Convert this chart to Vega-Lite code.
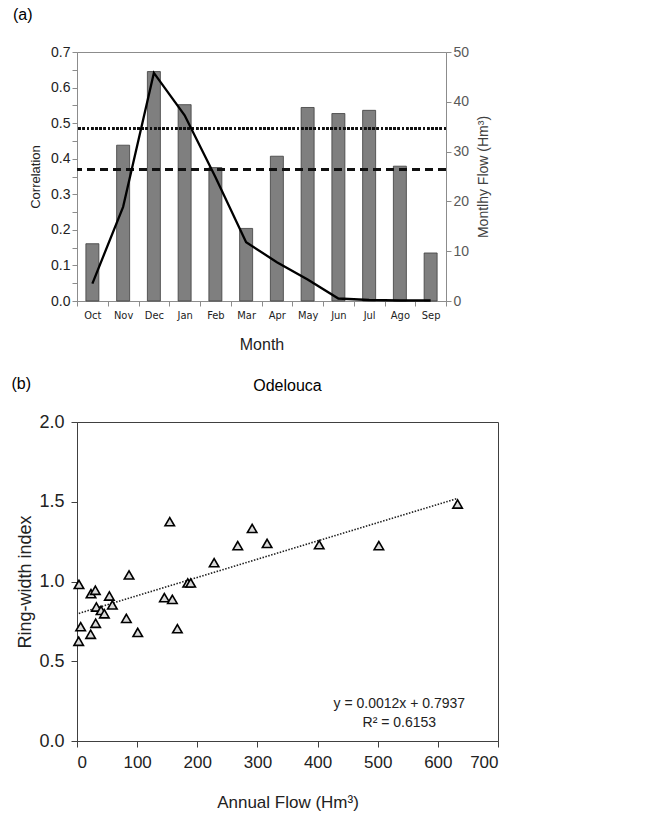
{
  "$schema": "https://vega.github.io/schema/vega-lite/v6.json",
  "background": "white",
  "padding": {"left": 11, "top": 6, "right": 5, "bottom": 5},
  "config": {
    "font": "Liberation Sans",
    "view": {"stroke": "#8c8c8c"},
    "title": {"fontWeight": "normal", "color": "#000000"},
    "axis": {"grid": false, "labelFont": "Liberation Sans", "titleFont": "Liberation Sans", "titleFontWeight": "normal", "labelOverlap": false}
  },
  "datasets": {
    "months": [
      {"month": "Oct", "corr": 0.161, "flow": 3.5},
      {"month": "Nov", "corr": 0.438, "flow": 18.9},
      {"month": "Dec", "corr": 0.645, "flow": 45.8},
      {"month": "Jan", "corr": 0.552, "flow": 37.3},
      {"month": "Feb", "corr": 0.375, "flow": 24.9},
      {"month": "Mar", "corr": 0.204, "flow": 11.8},
      {"month": "Apr", "corr": 0.407, "flow": 7.8},
      {"month": "May", "corr": 0.544, "flow": 4.3},
      {"month": "Jun", "corr": 0.527, "flow": 0.5},
      {"month": "Jul", "corr": 0.536, "flow": 0.2},
      {"month": "Ago", "corr": 0.379, "flow": 0.1},
      {"month": "Sep", "corr": 0.135, "flow": 0.1}
    ],
    "points": [
      {"flow": 3.3, "rwi": 0.982},
      {"flow": 6.1, "rwi": 0.717},
      {"flow": 2.8, "rwi": 0.625},
      {"flow": 23.3, "rwi": 0.924},
      {"flow": 30.5, "rwi": 0.945},
      {"flow": 22.7, "rwi": 0.669},
      {"flow": 31.0, "rwi": 0.738},
      {"flow": 32.2, "rwi": 0.84},
      {"flow": 40.0, "rwi": 0.819},
      {"flow": 45.5, "rwi": 0.798},
      {"flow": 53.8, "rwi": 0.909},
      {"flow": 58.8, "rwi": 0.853},
      {"flow": 86.5, "rwi": 1.041},
      {"flow": 82.1, "rwi": 0.769},
      {"flow": 101.0, "rwi": 0.681},
      {"flow": 145.3, "rwi": 0.899},
      {"flow": 154.2, "rwi": 1.375},
      {"flow": 158.6, "rwi": 0.888},
      {"flow": 166.9, "rwi": 0.704},
      {"flow": 184.1, "rwi": 0.991},
      {"flow": 189.1, "rwi": 0.991},
      {"flow": 228.0, "rwi": 1.118},
      {"flow": 267.3, "rwi": 1.225},
      {"flow": 291.2, "rwi": 1.333},
      {"flow": 316.1, "rwi": 1.239},
      {"flow": 402.7, "rwi": 1.231},
      {"flow": 501.9, "rwi": 1.225},
      {"flow": 632.8, "rwi": 1.486}
    ],
    "trend": [
      {"flow": 3, "rwi": 0.8},
      {"flow": 632, "rwi": 1.52}
    ]
  },
  "spacing": 22,
  "vconcat": [
    {
      "title": {"text": "(a)", "anchor": "start", "fontSize": 16, "offset": 22, "dx": -16},
      "vconcat": [
        {
          "width": 369,
          "height": 249,
          "data": {"name": "months"},
          "resolve": {"scale": {"y": "independent"}},
          "layer": [
            {
              "layer": [
                {
                  "mark": {"type": "bar", "size": 13, "fill": "#7f7f7f", "stroke": "#3c3c3c", "strokeWidth": 0.8},
                  "encoding": {
                    "x": {
                      "field": "month", "type": "nominal", "sort": null,
                      "scale": {"paddingInner": 0, "paddingOuter": 0},
                      "axis": {"title": "Month", "labelAngle": 0, "labelFontSize": 11, "labelColor": "#222222", "labelFont": "DejaVu Sans Condensed, Liberation Sans", "tickBand": "extent", "tickColor": "#8c8c8c", "domainColor": "#8c8c8c", "tickSize": 5, "labelPadding": 3, "titleFontSize": 16, "titlePadding": 16, "titleColor": "#222222"}
                    },
                    "y": {
                      "field": "corr", "type": "quantitative",
                      "scale": {"domain": [0, 0.7], "nice": false},
                      "axis": {"title": "Correlation", "values": [0, 0.05, 0.1, 0.15, 0.2, 0.25, 0.3, 0.35, 0.4, 0.45, 0.5, 0.55, 0.6, 0.65, 0.7], "labelExpr": "round(datum.value*20) % 2 == 0 ? format(datum.value, '.1f') : ''", "labelOverlap": false, "labelFontSize": 14, "labelColor": "#222222", "tickColor": "#8c8c8c", "domainColor": "#8c8c8c", "tickSize": 5, "titleFontSize": 13, "titleColor": "#222222", "titlePadding": 8}
                    }
                  }
                },
                {
                  "mark": {"type": "rule", "color": "#111111", "strokeWidth": 2.4, "strokeDash": [2, 2.2]},
                  "encoding": {"y": {"datum": 0.485, "axis": {"title": "Correlation", "values": [0, 0.05, 0.1, 0.15, 0.2, 0.25, 0.3, 0.35, 0.4, 0.45, 0.5, 0.55, 0.6, 0.65, 0.7], "labelExpr": "round(datum.value*20) % 2 == 0 ? format(datum.value, '.1f') : ''", "labelOverlap": false, "labelFontSize": 14, "labelColor": "#222222", "tickColor": "#8c8c8c", "domainColor": "#8c8c8c", "tickSize": 5, "titleFontSize": 13, "titleColor": "#222222", "titlePadding": 8}}}
                },
                {
                  "mark": {"type": "rule", "color": "#111111", "strokeWidth": 2, "strokeDash": [8, 5]},
                  "encoding": {"y": {"datum": 0.37, "axis": {"title": "Correlation", "values": [0, 0.05, 0.1, 0.15, 0.2, 0.25, 0.3, 0.35, 0.4, 0.45, 0.5, 0.55, 0.6, 0.65, 0.7], "labelExpr": "round(datum.value*20) % 2 == 0 ? format(datum.value, '.1f') : ''", "labelOverlap": false, "labelFontSize": 14, "labelColor": "#222222", "tickColor": "#8c8c8c", "domainColor": "#8c8c8c", "tickSize": 5, "titleFontSize": 13, "titleColor": "#222222", "titlePadding": 8}}}
                }
              ]
            },
            {
              "mark": {"type": "line", "color": "#000000", "strokeWidth": 2.3},
              "encoding": {
                "x": {"field": "month", "type": "nominal", "sort": null},
                "y": {
                  "field": "flow", "type": "quantitative",
                  "scale": {"domain": [0, 50], "nice": false},
                  "axis": {"orient": "right", "title": "Montlhy Flow (Hm³)", "titleAngle": 270, "titleBaseline": "top", "values": [0, 10, 20, 30, 40, 50], "labelFontSize": 14, "labelColor": "#595959", "tickColor": "#8c8c8c", "domainColor": "#8c8c8c", "tickSize": 5, "titleFontSize": 14, "titleColor": "#404040", "titlePadding": 8}
                }
              }
            }
          ]
        }
      ]
    },
    {
      "title": {"text": "(b)", "anchor": "start", "fontSize": 16, "offset": -14, "dx": -5},
      "vconcat": [
        {
          "width": 421,
          "height": 319,
          "title": {"text": "Odelouca", "fontSize": 16, "anchor": "middle", "offset": 19},
          "view": {"stroke": "#404040"},
          "layer": [
            {
              "data": {"name": "trend"},
              "mark": {"type": "line", "color": "#222222", "strokeWidth": 1.6, "strokeDash": [1.5, 1.5]},
              "encoding": {
                "x": {"field": "flow", "type": "quantitative", "scale": {"domain": [0, 700], "nice": false}},
                "y": {"field": "rwi", "type": "quantitative", "scale": {"domain": [0, 2], "nice": false}}
              }
            },
            {
              "data": {"name": "points"},
              "mark": {"type": "point", "shape": "triangle-up", "size": 90, "filled": true, "fill": "#d9d9d9", "stroke": "#000000", "strokeWidth": 1.6, "opacity": 1},
              "encoding": {
                "x": {
                  "field": "flow", "type": "quantitative",
                  "axis": {"title": "Annual Flow (Hm³)", "values": [0, 100, 200, 300, 400, 500, 600, 700], "labelFontSize": 17, "labelColor": "#222222", "tickColor": "#404040", "domainColor": "#404040", "tickSize": 6, "labelPadding": 7, "titleFontSize": 17, "titleColor": "#222222", "titlePadding": 24}
                },
                "y": {
                  "field": "rwi", "type": "quantitative",
                  "axis": {"title": "Ring-width index", "values": [0, 0.25, 0.5, 0.75, 1, 1.25, 1.5, 1.75, 2], "labelExpr": "round(datum.value*4) % 2 == 0 ? format(datum.value, '.1f') : ''", "labelOverlap": false, "labelFontSize": 18, "labelColor": "#222222", "tickColor": "#404040", "domainColor": "#404040", "tickSize": 6, "labelPadding": 7, "titleFontSize": 18, "titleColor": "#222222", "titlePadding": 4}
                }
              }
            },
            {
              "data": {"values": [{}]},
              "mark": {"type": "text", "text": ["y = 0.0012x + 0.7937", "R² = 0.6153"], "fontSize": 14, "align": "center", "baseline": "middle", "lineHeight": 19, "color": "#222222"},
              "encoding": {"x": {"datum": 536}, "y": {"datum": 0.235}}
            }
          ]
        }
      ]
    }
  ]
}
